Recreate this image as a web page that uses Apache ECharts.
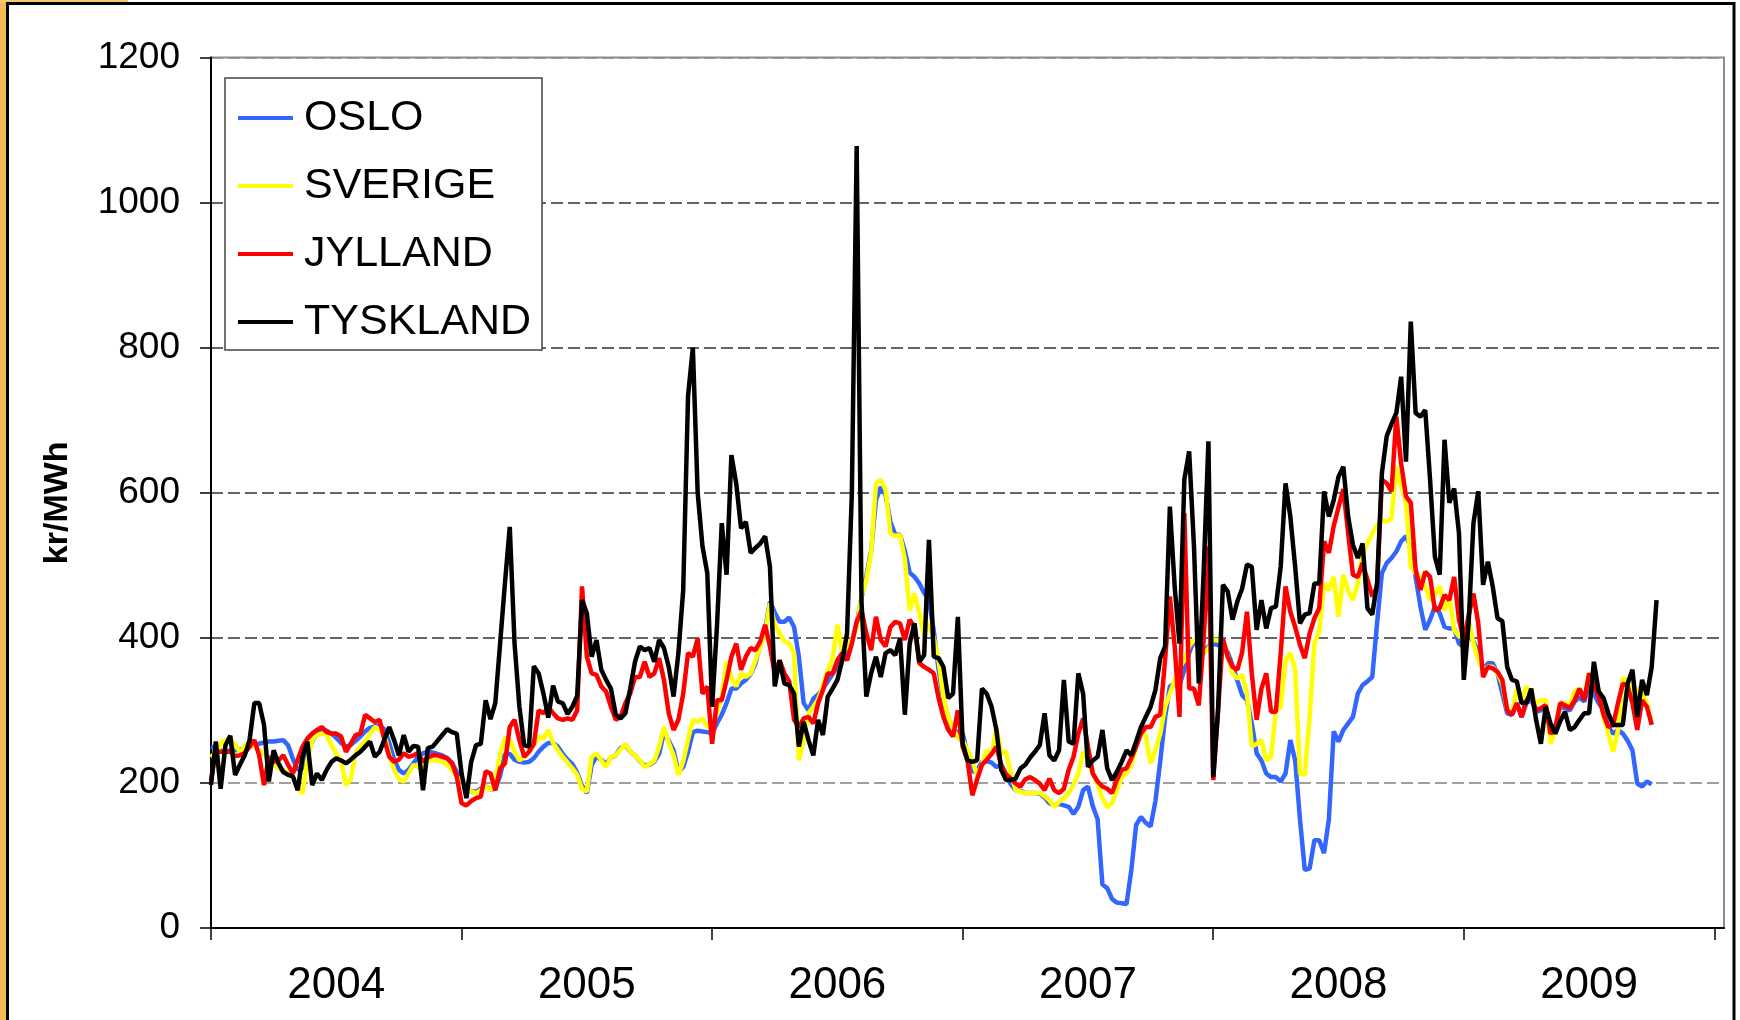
<!DOCTYPE html>
<html>
<head>
<meta charset="utf-8">
<script src="https://cdn.jsdelivr.net/npm/echarts@6/dist/echarts.min.js"></script>
<style>
  html, body { margin: 0; padding: 0; background: #ffffff; }
  #chart { width: 1740px; height: 1020px; }
</style>
</head>
<body>
<div id="chart"></div>
<script>
// ---- Data (weekly prices, kr/MWh) ----
const years = ['2004', '2005', '2006', '2007', '2008', '2009', '2010'];
const weeksPerYear = 52;
const categoryCount = 315;
const yMin = 0, yMax = 1200, yStep = 200;
const seriesNames = ['OSLO', 'SVERIGE', 'JYLLAND', 'TYSKLAND'];

const oslo = [
  250,248,245,242,245,245,246,248,250,252,
  254,256,257,257,258,259,252,233,218,220,
  245,257,268,273,272,268,262,255,250,252,
  258,264,271,276,278,279,274,255,232,218,
  213,218,227,236,241,243,242,240,238,234,
  228,215,204,195,188,188,192,195,191,192,
  210,240,240,232,229,228,229,234,243,250,
  255,255,250,240,232,226,214,196,186,225,
  236,232,226,235,238,248,252,243,238,230,
  224,225,229,240,270,258,245,215,222,243,
  270,272,271,270,268,282,294,310,330,330,
  337,342,350,365,392,411,450,435,422,422,
  428,415,374,310,300,316,322,330,340,350,
  360,370,380,395,420,455,485,520,590,608,
  597,560,542,542,520,490,484,475,462,452,
  410,356,314,290,273,270,268,240,215,218,
  229,230,228,222,225,210,198,190,189,186,
  186,186,185,180,172,169,171,169,167,157,
  167,190,195,168,150,60,55,40,35,34,
  33,80,142,153,145,140,175,230,290,333,
  337,335,356,379,397,385,380,388,392,390,
  388,380,362,341,321,314,282,241,231,213,
  208,208,202,213,259,231,150,80,82,121,
  121,103,150,271,257,273,282,291,323,335,
  340,346,420,489,503,510,519,533,540,526,
  484,443,411,425,443,434,415,413,413,392,
  388,405,395,380,356,365,365,351,323,296,
  294,310,291,310,315,298,300,305,270,278,
  305,303,300,312,318,312,335,323,310,300,
  277,268,273,268,258,245,199,195,202,198
];

const sverige = [
  240,232,255,259,261,252,243,250,257,250,
  245,240,232,225,220,218,213,208,192,186,
  231,259,266,268,266,252,240,231,197,205,
  241,250,257,268,277,274,265,240,218,205,
  202,213,225,222,220,231,231,231,229,225,
  218,208,204,195,188,186,190,195,190,203,
  240,262,260,243,231,236,244,252,264,261,
  273,255,245,236,228,220,211,192,188,236,
  241,231,222,236,238,246,254,243,238,231,
  222,226,230,250,277,255,238,211,230,260,
  287,284,289,277,280,296,320,367,345,333,
  351,346,351,369,388,406,448,418,406,395,
  392,379,231,259,296,305,315,335,355,372,
  418,379,388,397,415,457,480,517,613,618,
  604,544,540,542,508,438,461,434,402,420,
  400,369,319,291,275,262,259,245,231,210,
  225,245,238,277,241,243,213,190,188,186,
  186,186,186,182,176,167,174,179,186,197,
  213,243,231,213,199,179,167,172,190,208,
  213,225,250,273,264,227,245,268,305,323,
  342,360,369,388,397,400,379,385,397,397,
  392,375,351,344,349,323,250,254,259,231,
  236,300,305,369,379,356,213,211,291,392,
  409,475,466,484,429,487,465,452,475,517,
  530,544,555,563,560,565,636,610,586,498,
  489,484,471,452,461,471,438,457,411,402,
  400,425,392,370,356,360,360,351,337,300,
  296,330,314,333,323,310,314,314,254,273,
  310,310,307,326,330,317,351,340,328,291,
  268,243,273,344,342,314,330,323,310,282
];

const jylland = [
  204,243,243,243,243,237,238,241,250,259,
  238,197,236,229,231,238,225,213,232,250,
  261,268,273,277,270,268,268,264,243,254,
  266,268,294,289,284,287,259,236,229,232,
  241,236,238,241,229,235,238,238,236,234,
  227,209,172,169,175,179,181,216,213,190,
  220,227,277,287,259,236,243,254,300,296,
  305,296,289,287,289,287,300,471,374,351,
  349,333,326,305,287,291,310,323,346,346,
  367,346,351,372,342,296,273,287,323,379,
  374,399,323,333,254,314,314,342,374,392,
  356,374,386,383,395,418,388,351,369,351,
  340,287,277,289,291,282,310,328,351,351,
  369,379,369,392,422,438,406,383,429,397,
  388,415,422,420,397,425,415,365,360,356,
  351,317,291,273,264,300,250,231,183,205,
  225,232,240,250,225,212,206,199,195,205,
  208,204,199,190,206,190,186,192,218,236,
  268,289,250,213,202,195,192,186,204,218,
  220,234,250,268,277,277,291,294,369,457,
  388,291,572,330,330,307,397,526,204,300,
  399,374,360,356,380,436,351,287,330,351,
  298,298,379,471,436,415,390,372,406,427,
  441,533,517,554,580,605,544,487,484,503,
  480,457,470,618,613,602,705,640,595,586,
  494,466,491,484,438,441,459,452,484,425,
  397,430,461,420,346,360,358,353,342,300,
  294,310,291,314,319,300,303,307,268,275,
  310,307,303,314,330,314,351,335,319,294,
  277,280,310,337,333,310,273,314,305,280
];

const tyskland = [
  197,257,192,252,265,211,225,238,259,310,
  310,280,202,245,227,215,211,209,190,236,
  257,197,213,204,218,229,234,231,227,232,
  238,243,250,257,236,243,260,277,259,238,
  266,243,251,250,190,248,250,258,266,274,
  270,268,213,179,229,252,254,314,288,310,
  392,475,553,392,305,252,250,361,351,323,
  290,334,312,310,295,305,320,452,434,374,
  397,356,342,330,294,289,296,330,367,388,
  383,386,367,397,386,360,319,379,466,733,
  800,600,526,489,305,415,558,487,652,613,
  551,560,517,524,530,540,498,333,369,337,
  335,323,250,284,259,238,287,266,319,330,
  342,369,406,600,1078,450,319,351,374,346,
  379,383,376,399,294,392,420,367,376,535,
  374,372,360,317,323,429,254,231,229,231,
  330,323,305,273,218,204,204,206,220,225,
  235,243,252,296,238,231,245,342,257,254,
  351,323,222,231,236,273,220,204,215,229,
  245,238,257,277,291,305,328,372,388,581,
  470,392,618,657,526,337,489,671,208,300,
  473,464,425,450,468,501,498,411,452,413,
  441,443,498,613,567,498,420,432,434,475,
  475,602,567,590,622,636,567,528,510,530,
  441,432,475,627,678,695,710,760,643,836,
  710,705,714,618,512,487,673,586,606,544,
  342,420,558,602,473,505,471,427,423,360,
  342,340,310,310,330,287,254,305,282,268,
  285,298,273,277,287,296,296,367,326,317,
  296,280,280,280,337,356,291,342,321,360,
  452
];

// week categories (year + week number)
const categories = [];
for (let i = 0; i < categoryCount; i++) {
  const y = years[Math.floor(i / weeksPerYear)];
  categories.push(y + '-U' + ((i % weeksPerYear) + 1));
}

const FONT = "'Liberation Sans', Arial, sans-serif";
const colors = ['#3366ff', '#ffff00', '#ff0000', '#000000'];
const seriesData = [oslo, sverige, jylland, tyskland];

const chart = echarts.init(document.getElementById('chart'), null, { renderer: 'canvas' });

chart.setOption({
  animation: false,
  backgroundColor: '#ffffff',
  textStyle: { fontFamily: FONT },
  graphic: [
    { type: 'rect', z: -10, shape: { x: 0, y: 0, width: 7, height: 1020 }, style: { fill: '#f4bc55' } },
    { type: 'rect', z: -10, shape: { x: 0, y: 0, width: 128, height: 3 }, style: { fill: '#f6c870' } },
    { type: 'rect', z: -9, shape: { x: 7.5, y: 3.5, width: 1726.5, height: 1030 },
      style: { fill: 'none', stroke: '#000000', lineWidth: 3 } }
  ],
  grid: {
    left: 211, top: 57.5, right: 16, bottom: 92,
    show: true, borderColor: '#8c8c8c', borderWidth: 2, backgroundColor: 'transparent'
  },
  legend: {
    left: 225, top: 78,
    orient: 'vertical',
    backgroundColor: '#ffffff',
    borderColor: '#444444', borderWidth: 1.5,
    padding: [18, 11, 6, 13],
    itemGap: 24,
    icon: 'rect',
    itemWidth: 55, itemHeight: 4,
    textStyle: { fontFamily: FONT, fontSize: 43, color: '#000', lineHeight: 44, padding: [0, 0, 0, 6] },
    data: seriesNames
  },
  xAxis: {
    type: 'category',
    data: categories,
    boundaryGap: false,
    axisLine: { lineStyle: { color: '#000', width: 2 } },
    axisTick: { show: true, length: 12, interval: (i) => i % weeksPerYear === 0, lineStyle: { color: '#000', width: 1.5 } },
    axisLabel: {
      interval: (i) => i % weeksPerYear === weeksPerYear / 2,
      formatter: (v) => v.slice(0, 4),
      fontFamily: FONT, fontSize: 44, color: '#000', margin: 36
    },
    splitLine: { show: false }
  },
  yAxis: {
    type: 'value',
    min: yMin, max: yMax, interval: yStep,
    name: 'kr/MWh',
    nameLocation: 'middle',
    nameGap: 136,
    nameTextStyle: { fontFamily: FONT, fontSize: 34, fontWeight: 'bold', color: '#000', padding: [0, 20, 0, 0] },
    axisLine: { show: true, lineStyle: { color: '#000', width: 2 } },
    axisTick: { show: true, length: 11, lineStyle: { color: '#000', width: 1.5 } },
    axisLabel: { fontFamily: FONT, fontSize: 37, color: '#000', margin: 31, formatter: (v) => String(v) },
    splitLine: {
      show: true,
      lineStyle: { color: ['#000', '#808080', '#333', '#333', '#333', '#333', '#8c8c8c'], width: 1.5, type: [12, 5] }
    }
  },
  series: seriesNames.map((name, k) => ({
    name: name,
    type: 'line',
    data: seriesData[k],
    symbol: 'none',
    showSymbol: false,
    itemStyle: { color: colors[k] },
    lineStyle: { color: colors[k], width: 4.5 },
    z: 2 + k
  }))
});
</script>
</body>
</html>
